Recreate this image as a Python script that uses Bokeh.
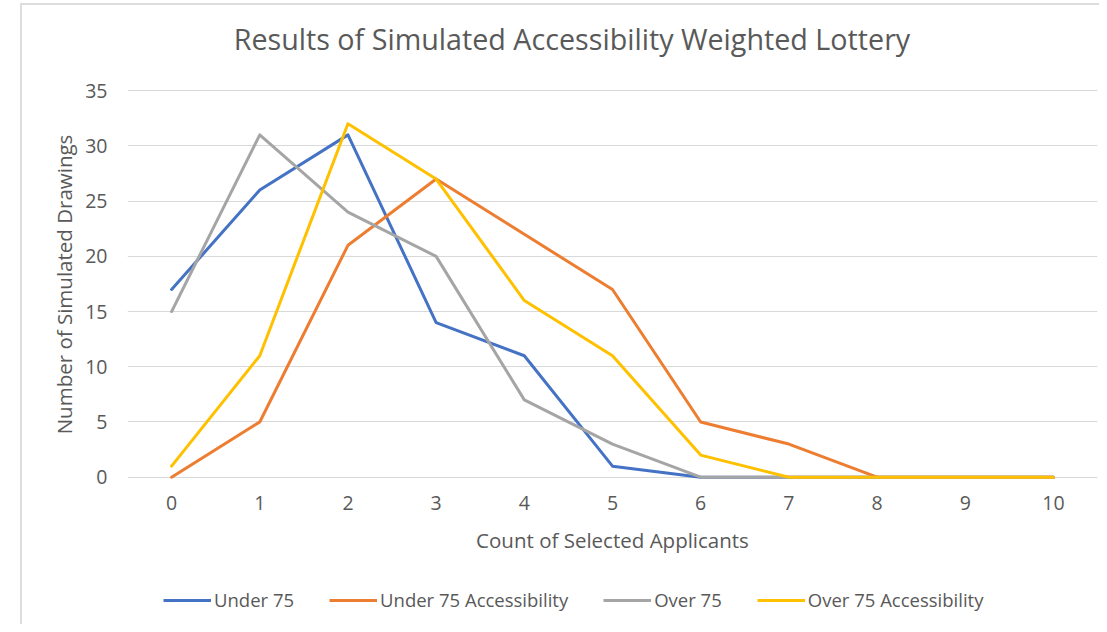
from bokeh.plotting import figure
from bokeh.layouts import column
from bokeh.models import Legend, LegendItem, Range1d, FixedTicker, Label
from bokeh.embed import file_html
from bokeh.resources import INLINE

# ---- data ----
counts = [0, 1, 2, 3, 4, 5, 6, 7, 8, 9, 10]
under_75 = [17, 26, 31, 14, 11, 1, 0, 0, 0, 0, 0]
under_75_accessibility = [0, 5, 21, 27, 22, 17, 5, 3, 0, 0, 0]
over_75 = [15, 31, 24, 20, 7, 3, 0, 0, 0, 0, 0]
over_75_accessibility = [1, 11, 32, 27, 16, 11, 2, 0, 0, 0, 0]
series_names = ["Under 75", "Under 75 Accessibility", "Over 75", "Over 75 Accessibility"]
y_ticks = [0, 5, 10, 15, 20, 25, 30, 35]
chart_title = "Results of Simulated Accessibility Weighted Lottery"

colors = ["#4472C4", "#ED7D31", "#A5A5A5", "#FFC000"]
TEXT = "#595959"
FONT = "Open Sans"
W = 1077
LEFT = 105
RIGHT = 2


def strip(height):
    f = figure(width=W, height=height, output_backend="svg", toolbar_location=None,
               x_range=Range1d(0, 1), y_range=Range1d(0, 1),
               min_border_left=LEFT, min_border_right=RIGHT,
               min_border_top=0, min_border_bottom=0)
    f.axis.visible = False
    f.grid.visible = False
    f.outline_line_color = None
    f.border_fill_color = "white"
    f.background_fill_color = "white"
    return f


# ---- title strip ----
tf = strip(60)
tf.add_layout(Label(x=0.4582, y=0.45, text=chart_title, text_align="center",
                    text_baseline="alphabetic", text_font=FONT, text_font_size="28.7px",
                    text_color=TEXT))

# ---- main chart ----
p = figure(width=W, height=505, output_backend="svg", toolbar_location=None,
           x_range=Range1d(-0.5, 10.5), y_range=Range1d(-0.3, 35.2),
           min_border_left=LEFT, min_border_right=RIGHT, min_border_top=23,
           min_border_bottom=90)
p.outline_line_color = None
p.background_fill_color = "white"
p.border_fill_color = "white"

series = [under_75, under_75_accessibility, over_75, over_75_accessibility]
for vals, c in zip(series, colors):
    p.line(counts, vals, line_color=c, line_width=3, line_join="round", line_cap="round")

p.xaxis.ticker = FixedTicker(ticks=counts)
p.yaxis.ticker = FixedTicker(ticks=y_ticks)
for ax in (p.xaxis[0], p.yaxis[0]):
    ax.axis_line_color = None
    ax.major_tick_line_color = None
    ax.minor_tick_line_color = None
    ax.major_label_text_font = FONT
    ax.major_label_text_font_size = "19.5px"
    ax.major_label_text_color = TEXT
    ax.axis_label_text_font = FONT
    ax.axis_label_text_font_size = "20.5px"
    ax.axis_label_text_color = TEXT
    ax.axis_label_text_font_style = "normal"
p.xaxis.axis_label = "Count of Selected Applicants"
p.yaxis.axis_label = "Number of Simulated Drawings"
p.xaxis.major_label_standoff = 9
p.xaxis.axis_label_standoff = 13
p.yaxis.major_label_standoff = 14
p.yaxis.axis_label_standoff = 4

p.xgrid.grid_line_color = None
p.ygrid.ticker = FixedTicker(ticks=y_ticks)
p.ygrid.grid_line_color = "#D9D9D9"
p.ygrid.grid_line_width = 1

# ---- legend strip ----
lf = strip(54)
leg_renderers = [lf.line([-5, -4], [0, 0], line_color=c, line_width=3) for c in colors]
legend = Legend(items=[LegendItem(label=n, renderers=[r]) for n, r in zip(series_names, leg_renderers)],
                orientation="horizontal", location=(36, 12),
                label_text_font=FONT, label_text_font_size="18.5px", label_text_color=TEXT,
                glyph_width=48, glyph_height=20, label_standoff=3, spacing=35,
                padding=0, margin=0, border_line_color=None, background_fill_alpha=0)
lf.add_layout(legend, "center")

layout = column(tf, p, lf, spacing=0, margin=(3, 0, 0, 20),
                styles={"border-left": "2px solid #DDDDDD", "border-top": "2px solid #DDDDDD"})
open("out.html", "w").write(file_html(layout, INLINE))
